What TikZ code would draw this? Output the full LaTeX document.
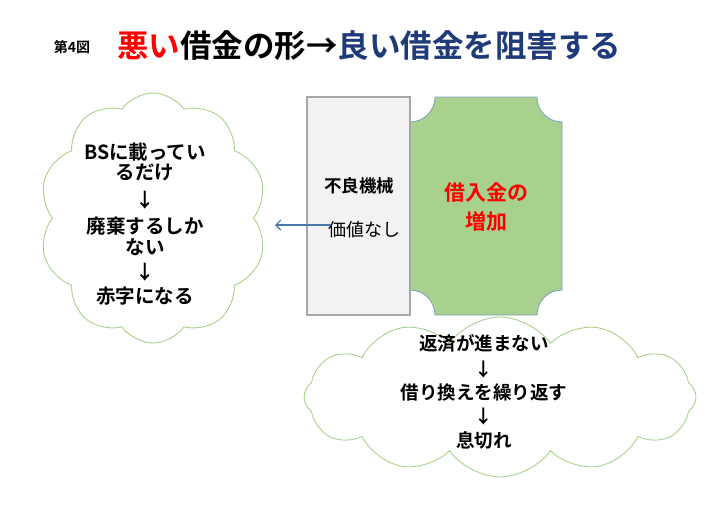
\documentclass[tikz,border=0pt]{standalone}
\usepackage{fontspec}
\setmainfont{Noto Sans CJK JP}
\newfontfamily\jpb{Noto Sans CJK JP Bold}
\usetikzlibrary{shapes.symbols,arrows.meta}
\definecolor{cloudgreen}{HTML}{A9D18E}
\definecolor{plaquegreen}{HTML}{A9D18E}
\definecolor{plaqueedge}{HTML}{7F9FBF}
\definecolor{grayfill}{HTML}{F2F2F2}
\definecolor{grayedge}{HTML}{A6A6A6}
\definecolor{titleblue}{HTML}{1F3A78}
\definecolor{arrowblue}{HTML}{4A76A8}
\tikzset{
  cloudbox/.style={cloud, draw=cloudgreen, fill=white, line width=0.9pt, inner sep=0pt},
  txt/.style={font=\jpb\fontsize{19.5}{19.5}\selectfont, inner sep=0pt, anchor=center},
  btxt/.style={font=\jpb\fontsize{18.5}{18.5}\selectfont, inner sep=0pt, anchor=center},
}
\begin{document}
\begin{tikzpicture}[x=1pt,y=-1pt]
\useasboundingbox[fill=white] (0,0) rectangle (715,504);
% title
\node[font=\jpb\fontsize{14}{14}\selectfont, anchor=center, inner sep=0pt] (fig) at (72,47) {第4図};
\node[font=\jpb\fontsize{31.5}{31.5}\selectfont, anchor=west, inner sep=0pt] (title) at (117,46)
  {\textcolor{red}{悪い}借金の形→\textcolor{titleblue}{良い借金を阻害する}};
% left cloud
\node[cloudbox, cloud puffs=10, cloud puff arc=110, aspect=0.85, minimum width=228pt, minimum height=250pt] (lcloud) at (153,218) {};
\node[txt] (l1) at (145,152) {BSに載ってい};
\node[txt] (l2) at (145,172) {るだけ};
\node[txt] (l3) at (145,200) {↓};
\node[txt] (l4) at (145,226) {廃棄するしか};
\node[txt] (l5) at (145,247) {ない};
\node[txt] (l6) at (145,272) {↓};
\node[txt] (l7) at (145,296) {赤字になる};
% bottom cloud
\node[cloudbox, cloud puffs=12, cloud puff arc=110, aspect=2.5, minimum width=392pt, minimum height=160pt] (bcloud) at (500,397) {};
\node[btxt] (b1) at (484,343) {返済が進まない};
\node[btxt] (b2) at (484,370) {↓};
\node[btxt] (b3) at (484,392) {借り換えを繰り返す};
\node[btxt] (b4) at (484,417) {↓};
\node[btxt] (b5) at (484,440) {息切れ};
% green plaque
\draw[fill=plaquegreen, draw=plaqueedge, line width=0.8pt]
  (435,97) -- (537,97) .. controls (537,110.8) and (548.2,122) .. (562,122)
  -- (562,290) .. controls (548.2,290) and (537,301.2) .. (537,315)
  -- (435,315) .. controls (435,301.2) and (423.8,290) .. (410,290)
  -- (410,122) .. controls (423.8,122) and (435,110.8) .. (435,97) -- cycle;
% gray rectangle
\node[draw=grayedge, fill=grayfill, line width=1.8pt, minimum width=103pt, minimum height=218pt, inner sep=0pt] (grayrect) at (358.5,206) {};
\node[font=\jpb\fontsize{17.5}{17.5}\selectfont, inner sep=0pt] (bad) at (359,186) {不良機械};
\node[font=\fontsize{18}{18}\selectfont, inner sep=0pt] (novalue) at (364,230) {価値なし};
\node[font=\jpb\fontsize{21}{21}\selectfont, text=red, inner sep=0pt] (loan1) at (486,193) {借入金の};
\node[font=\jpb\fontsize{21}{21}\selectfont, text=red, inner sep=0pt] (loan2) at (486,221) {増加};
% arrow
\coordinate (astart) at (331,225);
\coordinate (atip) at (275,225);
\draw[arrowblue, line width=1.2pt, -{Straight Barb[length=5pt,width=10pt]}] (astart) -- (atip);
\end{tikzpicture}
\end{document}
